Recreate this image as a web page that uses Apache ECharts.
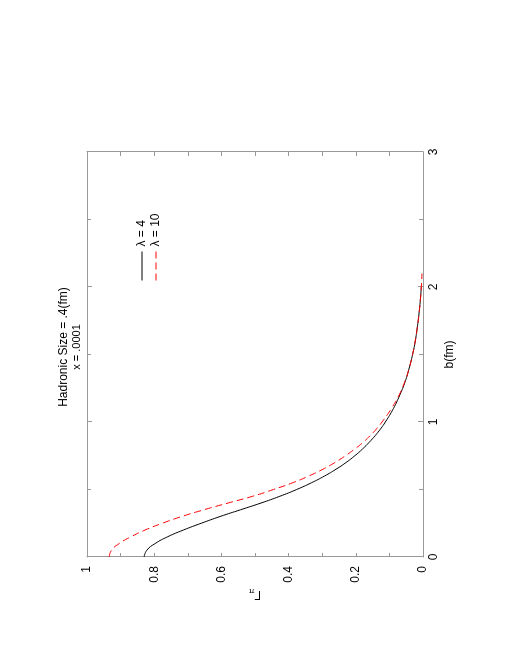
<!DOCTYPE html>
<html>
<head>
<meta charset="utf-8">
<script src="https://cdn.jsdelivr.net/npm/echarts@6/dist/echarts.min.js"></script>
<style>
    html, body { margin: 0; padding: 0; background: #fff; overflow: hidden; }
    /* the plot is drawn landscape and turned a quarter to the left, like the printed page */
    #chart {
        position: absolute;
        width: 660px;
        height: 510px;
        left: -75px;
        top: 75px;
        transform: rotate(-90deg);
    }
</style>
</head>
<body>
<div id="chart"></div>
<script>
// impact parameter b (fm)
let bValues = [0, 0.05, 0.1, 0.15, 0.2, 0.25, 0.3, 0.35, 0.4, 0.45, 0.5, 0.55, 0.6, 0.65, 0.7,
    0.75, 0.8, 0.85, 0.9, 0.95, 1.0, 1.1, 1.2, 1.3, 1.4, 1.5, 1.6, 1.7, 1.8, 1.9, 2.0, 2.1];
// Γ_π
let gammaLambda4 = [0.830, 0.822, 0.797, 0.760, 0.713, 0.660, 0.604, 0.543, 0.482, 0.426, 0.376,
    0.332, 0.293, 0.259, 0.229, 0.203, 0.180, 0.160, 0.142, 0.126, 0.112, 0.088, 0.069, 0.053,
    0.041, 0.031, 0.023, 0.017, 0.012, 0.008, 0.005, null];
let gammaLambda10 = [0.934, 0.927, 0.904, 0.869, 0.827, 0.776, 0.718, 0.652, 0.580, 0.507, 0.445,
    0.388, 0.340, 0.298, 0.262, 0.231, 0.203, 0.178, 0.157, 0.138, 0.122, 0.094, 0.071, 0.054,
    0.041, 0.031, 0.023, 0.017, 0.012, 0.008, 0.005, 0.003];
let seriesNames = ['λ = 4', 'λ = 10'];
let xTicks = [0, 1, 2, 3];
let yTicks = [0, 0.2, 0.4, 0.6, 0.8, 1];

let chart = echarts.init(document.getElementById('chart'));

function pairs(ys) {
    let out = [];
    bValues.forEach((b, i) => {
        if (ys[i] !== null) out.push([b, ys[i]]);
    });
    return out;
}

let frameColor = '#999';
let font = 'Liberation Sans, Arial, sans-serif';

let xBase = {
    type: 'value',
    min: xTicks[0],
    max: xTicks[xTicks.length - 1],
    interval: 1,
    axisLine: { show: true, onZero: false, lineStyle: { color: frameColor, width: 1 } },
    axisTick: { show: true, inside: true, length: 5, lineStyle: { color: frameColor } },
    minorTick: { show: true, splitNumber: 2, length: 4, lineStyle: { color: frameColor } },
    splitLine: { show: false },
};
let yBase = {
    type: 'value',
    min: yTicks[0],
    max: yTicks[yTicks.length - 1],
    interval: 0.2,
    axisLine: { show: true, onZero: false, lineStyle: { color: frameColor, width: 1 } },
    axisTick: { show: true, inside: true, length: 4, lineStyle: { color: frameColor } },
    minorTick: { show: true, splitNumber: 2, length: 4, lineStyle: { color: frameColor } },
    splitLine: { show: false },
};

chart.setOption({
    animation: false,
    backgroundColor: '#fff',
    title: {
        text: 'Hadronic Size = .4(fm)',
        subtext: 'x = .0001',
        left: 308,
        textAlign: 'center',
        top: 53,
        itemGap: 1,
        textStyle: { fontFamily: font, fontSize: 12, fontWeight: 'normal', color: '#000' },
        subtextStyle: { fontFamily: font, fontSize: 11, color: '#000' }
    },
    legend: {
        orient: 'vertical',
        left: 374,
        top: 131,
        itemWidth: 29,
        itemHeight: 12,
        itemGap: 2,
        data: seriesNames,
        itemStyle: { opacity: 0 },
        lineStyle: { width: 1 },
        textStyle: { fontFamily: font, fontSize: 12, color: '#000' }
    },
    grid: { left: 103, right: 152, top: 87, bottom: 87 },
    xAxis: [
        Object.assign({}, xBase, {
            position: 'bottom',
            name: 'b(fm)',
            nameLocation: 'middle',
            nameGap: 21,
            nameMoveOverlap: false,
            nameTextStyle: { fontFamily: font, fontSize: 12, color: '#000' },
            axisLabel: { color: '#000', fontFamily: font, fontSize: 12, margin: 5 }
        }),
        Object.assign({}, xBase, { position: 'top', axisLabel: { show: false } })
    ],
    yAxis: [
        Object.assign({}, yBase, {
            position: 'left',
            name: '{g|Γ}{p|π}',
            nameLocation: 'middle',
            nameGap: 30,
            nameMoveOverlap: false,
            nameRotate: 90,
            nameTextStyle: {
                color: '#000',
                rich: {
                    g: { fontFamily: font, fontSize: 12, color: '#000' },
                    p: { fontFamily: font, fontSize: 8, color: '#000', padding: [6, 0, 0, 0] }
                }
            },
            axisLabel: { color: '#000', fontFamily: font, fontSize: 12, margin: 9 }
        }),
        Object.assign({}, yBase, { position: 'right', axisLabel: { show: false } })
    ],
    series: [
        {
            name: seriesNames[0],
            type: 'line',
            data: pairs(gammaLambda4),
            smooth: true,
            symbol: 'none',
            lineStyle: { color: '#000', width: 1 },
            itemStyle: { color: '#000' }
        },
        {
            name: seriesNames[1],
            type: 'line',
            data: pairs(gammaLambda10),
            smooth: true,
            symbol: 'none',
            lineStyle: { color: '#f00', width: 1, type: [7, 4] },
            itemStyle: { color: '#f00' }
        }
    ]
});
</script>
</body>
</html>
